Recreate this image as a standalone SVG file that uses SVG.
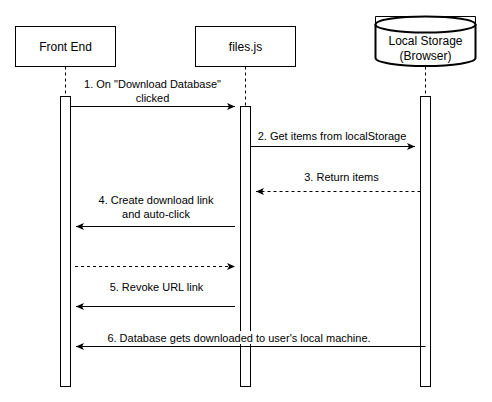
<svg xmlns="http://www.w3.org/2000/svg" width="492" height="402" viewBox="0 0 492 402">
<style>
.box{fill:#fff;stroke:#000;stroke-width:1}
.life{stroke:#000;stroke-width:1;stroke-dasharray:3,3;fill:none}
.act{fill:#fff;stroke:#000;stroke-width:1}
.t12{font-family:"Liberation Sans",Arial,sans-serif;font-size:12px;fill:#000;text-anchor:middle}
.t11{font-family:"Liberation Sans",Arial,sans-serif;font-size:11px;fill:#000;text-anchor:middle}
.msg{stroke:#000;stroke-width:1;fill:none;marker-end:url(#arr)}
.dash{stroke-dasharray:3,3}
</style>
<defs>
<marker id="arr" markerUnits="userSpaceOnUse" markerWidth="9" markerHeight="8" refX="8" refY="3.5" orient="auto">
<path d="M0,0 L8,3.5 L0,7 L2,3.5 Z" fill="#000"/>
</marker>
</defs>
<rect width="492" height="402" fill="#fff"/>
<g id="front-end">
<rect class="box" x="15.5" y="26.5" width="100" height="40"/>
<text class="t12" x="65.5" y="51">Front End</text>
<line class="life" x1="65.5" y1="66.5" x2="65.5" y2="96.5"/>
<rect class="act" x="60.5" y="96.5" width="10" height="290"/>
</g>
<g id="files-js">
<rect class="box" x="195.5" y="26.5" width="100" height="40"/>
<text class="t12" x="245.5" y="51">files.js</text>
<line class="life" x1="245.5" y1="66.5" x2="245.5" y2="106.5"/>
<rect class="act" x="240.5" y="106.5" width="10" height="280"/>
</g>
<g id="local-storage">
<path d="M375.5,24 V16.5 H475.5 V24" fill="none" stroke="#000" stroke-width="1"/>
<path d="M375.5,24 V58 A50,8 0 0 0 475.5,58 V24" fill="#fff" stroke="#000" stroke-width="2"/>
<ellipse cx="425.5" cy="24.5" rx="50" ry="8" fill="#fff" stroke="#000" stroke-width="2"/>
<text class="t12" x="425.5" y="44.5">Local Storage</text>
<text class="t12" x="425.5" y="59.5">(Browser)</text>
<line class="life" x1="425.5" y1="66.5" x2="425.5" y2="96.5"/>
<rect class="act" x="420.5" y="96.5" width="10" height="290"/>
</g>
<g id="connectors">
<line class="msg" x1="70.5" y1="106.5" x2="235" y2="106.5"/>
<line class="msg" x1="250.5" y1="146.5" x2="415" y2="146.5"/>
<line class="msg dash" x1="420.5" y1="191.5" x2="256" y2="191.5"/>
<line class="msg" x1="235" y1="226.5" x2="76" y2="226.5"/>
<line class="msg dash" x1="75" y1="266.5" x2="235" y2="266.5"/>
<line class="msg" x1="235" y1="306.5" x2="76" y2="306.5"/>
<line class="msg" x1="425.5" y1="346.5" x2="76" y2="346.5"/>
<text class="t11" x="152.5" y="88">1. On "Download Database"</text>
<text class="t11" x="152.5" y="101.5">clicked</text>
<text class="t11" x="332" y="140">2. Get items from localStorage</text>
<text class="t11" x="341.5" y="181">3. Return items</text>
<text class="t11" x="156" y="204">4. Create download link</text>
<text class="t11" x="156" y="218">and auto-click</text>
<text class="t11" x="156.5" y="291">5. Revoke URL link</text>
<rect x="106" y="331" width="266" height="13" fill="#fff"/>
<text class="t11" x="239" y="341.5">6. Database gets downloaded to user's local machine.</text>
</g>
</svg>
